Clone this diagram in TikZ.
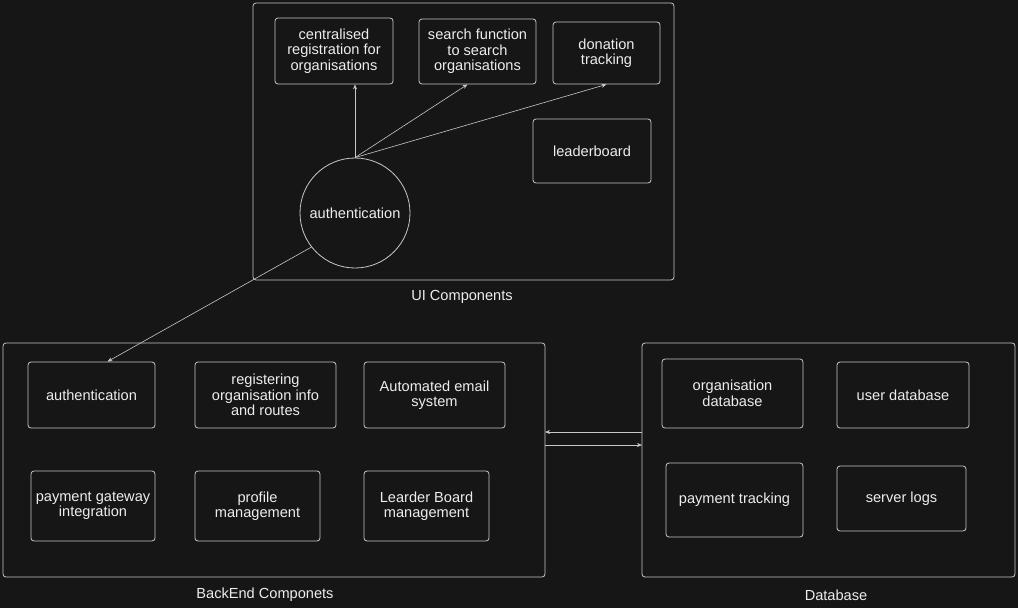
\documentclass[tikz,border=0pt]{standalone}
\usepackage{fontspec}
\setmainfont{Liberation Sans}
\usetikzlibrary{arrows.meta}
\definecolor{bg}{HTML}{161616}
\definecolor{ln}{HTML}{C8C8C8}
\definecolor{tx}{HTML}{EDEDED}
\begin{document}
\begin{tikzpicture}[x=1pt,y=-1pt,
  frame/.style={draw=ln,line width=0.8pt,rounded corners=3pt},
  box/.style={draw=ln,line width=0.8pt,rounded corners=3pt,text=tx,align=center,font=\fontsize{14.6}{15.5}\selectfont,inner sep=0pt},
  lbl/.style={text=tx,font=\fontsize{14.6}{15.5}\selectfont},
  conn/.style={draw=ln,line width=0.6pt,-{Stealth[length=5pt,width=4pt]}}]
\fill[bg] (0,0) rectangle (1018,608);
\useasboundingbox (0,0) rectangle (1018,608);
% frames
\draw[frame] (253,3) rectangle (674,280);
\node[lbl] (uil) at (462,297) {UI Components};
\draw[frame] (3,343) rectangle (545,577);
\node[lbl] (bel) at (265,595) {BackEnd Componets};
\draw[frame] (642,343) rectangle (1015,577);
\node[lbl] (dbl) at (836,595) {Database};
% UI
\node[box,minimum width=118pt,minimum height=66pt] (cr) at (334,51) {centralised\\registration for\\organisations};
\node[box,minimum width=117pt,minimum height=65pt] (sf) at (477.5,51.5) {search function\\to search\\organisations};
\node[box,minimum width=107pt,minimum height=62pt] (dt) at (606.5,53) {donation\\tracking};
\node[box,minimum width=118pt,minimum height=64pt] (lb) at (592,151) {leaderboard};
\node[draw=ln,line width=0.8pt,circle,minimum size=110pt,inner sep=0pt,text=tx,font=\fontsize{14.6}{15.5}\selectfont] (au) at (355,213) {authentication};
\coordinate (top) at (au.north);
\draw[conn] (top) -- (top |- cr.south);
\draw[conn] (top) -- ([xshift=-10pt]sf.south);
\draw[conn] (top) -- (dt.south);
% Backend
\node[box,minimum width=127pt,minimum height=66pt] (bau) at (91.5,395) {authentication};
\node[box,minimum width=141pt,minimum height=66pt] (reg) at (265.5,395) {registering\\organisation info\\and routes};
\node[box,minimum width=141pt,minimum height=66pt] (ae) at (434.5,395) {Automated email\\system};
\node[box,minimum width=124pt,minimum height=70pt] (pg) at (93,506) {payment gateway\\integration};
\node[box,minimum width=125pt,minimum height=70pt] (pm) at (257.5,506) {profile\\management};
\node[box,minimum width=125pt,minimum height=70pt] (ldb) at (426.5,506) {Learder Board\\management};
\draw[conn] (au.-142) -- ([xshift=16pt]bau.north);
% Database
\node[box,minimum width=141pt,minimum height=69pt] (od) at (732.5,393.5) {organisation\\database};
\node[box,minimum width=132pt,minimum height=66pt] (ud) at (903,395) {user database};
\node[box,minimum width=137pt,minimum height=74pt] (pt) at (734.5,500) {payment tracking};
\node[box,minimum width=129pt,minimum height=65pt] (sl) at (901.5,498.5) {server logs};
\coordinate (dbA) at (642,432);
\coordinate (beA) at (545,432);
\coordinate (beB) at (545,445);
\coordinate (dbB) at (642,445);
\draw[conn] (dbA) -- (beA);
\draw[conn] (beB) -- (dbB);
\end{tikzpicture}
\end{document}
